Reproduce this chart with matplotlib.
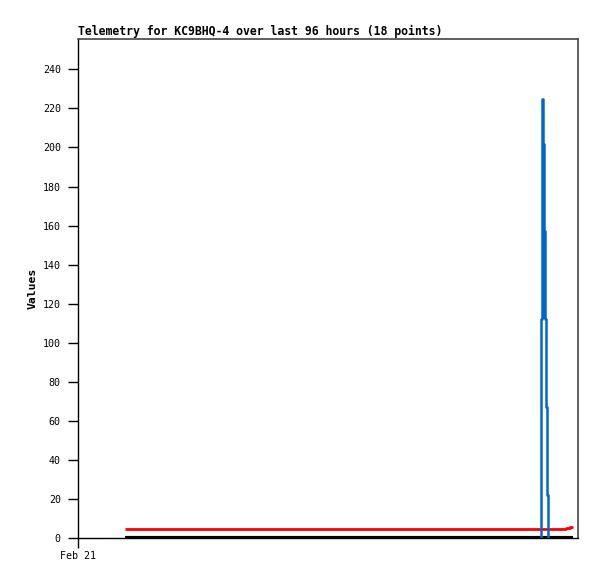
import matplotlib
matplotlib.use("Agg")
import matplotlib.pyplot as plt

# Data (hours since Feb 21 00:00)
red_t = [9.2, 93.8, 94.5, 95.1]
red_v = [5.0, 5.3, 6.0, 6.0]
black_t = [9.2, 95.1]
black_v = [0.0, 0.0]
blue_t = [89.05, 89.1, 89.35, 89.55, 89.75, 89.95, 90.2, 90.33]
blue_v = [112, 225, 202, 157, 112, 67, 22, 0]
yticks = [0, 20, 40, 60, 80, 100, 120, 140, 160, 180, 200, 220, 240]
xtick_pos = [0]
xtick_labels = ["Feb 21"]

fig = plt.figure(figsize=(5.97, 5.79), dpi=100)
ax = fig.add_axes([77.5 / 597, (579 - 538.3) / 579, 500 / 597, (538.3 - 39) / 579])

ax.plot(black_t, black_v, color="black", lw=3.0, solid_capstyle="butt", zorder=3)
ax.plot(red_t, red_v, color="#ff0000", lw=2.0, drawstyle="steps-post", solid_capstyle="butt", zorder=2)
ax.plot([blue_t[0]] + blue_t, [0] + blue_v, color="#0066cc", lw=1.8, drawstyle="steps-post", zorder=4)
ax.fill_between(blue_t[:5], [112] * 5, blue_v[:5], step="post", color="#0066cc", lw=0, zorder=4)

ax.set_xlim(0, 96)
ax.set_ylim(0, 255.5)
ax.set_yticks(yticks)
ax.set_yticklabels([str(v) for v in yticks], family="DejaVu Sans Mono", fontsize=7.2)
ax.set_xticks(xtick_pos)
ax.set_xticklabels(xtick_labels, family="DejaVu Sans Mono", fontsize=7.2)
ax.tick_params(axis="both", direction="out", length=7, width=1, color="black")
ax.tick_params(axis="y", pad=5)
ax.tick_params(axis="x", pad=2)

for s in ["left", "bottom"]:
    ax.spines[s].set_color("black")
    ax.spines[s].set_linewidth(1)
for s in ["right", "top"]:
    ax.spines[s].set_color("#444444")
    ax.spines[s].set_linewidth(1.2)

ax.set_ylabel("Values", family="DejaVu Sans Mono", fontweight="bold", fontsize=8.2, labelpad=4)
ax.set_title("Telemetry for KC9BHQ-4 over last 96 hours (18 points)", loc="left",
             family="DejaVu Sans Mono", fontweight="bold", fontsize=8.3, pad=3)

fig.savefig("out.png", dpi=100)
